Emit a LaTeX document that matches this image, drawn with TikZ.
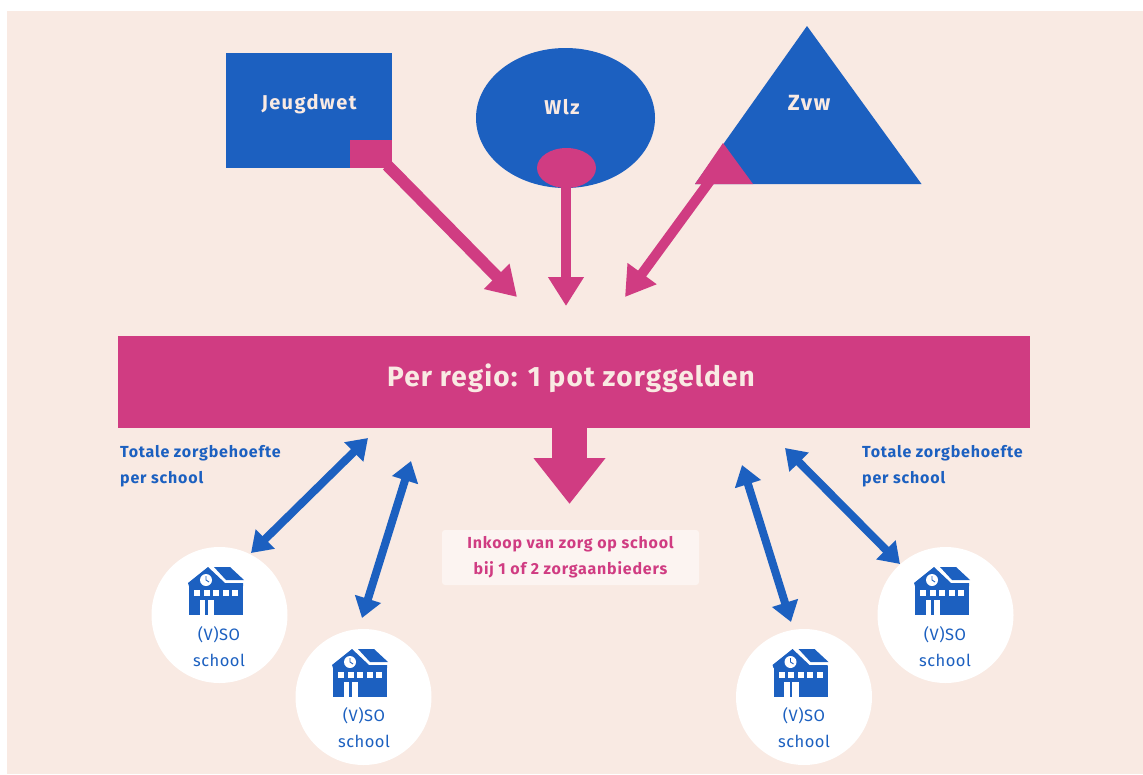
\documentclass[tikz,border=0pt]{standalone}
\usepackage{fontspec}
\setmainfont{Fira Sans}
\newfontfamily\fsa[LetterSpace=4]{Fira Sans}
\newfontfamily\fsb[LetterSpace=7]{Fira Sans}
\newfontfamily\fsc[LetterSpace=5]{Fira Sans}
\newfontfamily\fsd[LetterSpace=3]{Fira Sans}
\usetikzlibrary{arrows.meta,shapes.geometric}
\definecolor{bgc}{HTML}{F9EAE3}
\definecolor{blu}{HTML}{1C60C0}
\definecolor{pnk}{HTML}{D03C82}
\definecolor{boxc}{HTML}{FCF4F1}
\tikzset{
 x=1pt,y=-1pt,
 pinkarrow/.style={draw=pnk,line width=10pt,-{Triangle[length=29pt,width=34pt,fill=pnk]}},
 bluearrow/.style={draw=blu,line width=8pt,{Triangle[length=20pt,width=26pt,fill=blu]}-{Triangle[length=20pt,width=26pt,fill=blu]}},
 schoolc/.style={circle,fill=white,minimum size=136pt,inner sep=0pt},
 head/.style={text=bgc,font=\fontsize{20}{22}\selectfont\fsb\bfseries,inner sep=0pt},
 sidetext/.style={text=blu,font=\fontsize{16}{26}\selectfont\fsc\bfseries,align=left,anchor=north west,inner sep=0pt},
 schooltxt/.style={text=blu,font=\fontsize{16.5}{26}\selectfont\fsd,align=center,inner sep=0pt},
 school/.pic={
  \fill[blu] (-27,-7) rectangle (27,24);
  \fill[blu] (-8,-24) -- (-28,-8) -- (-27,-5) -- (27,-5) -- (27,-8) -- (9,-8) -- cycle;
  \fill[blu] (-2,-24) -- (14,-24) -- (28,-11) -- (10,-11) -- cycle;
  \draw[white,line width=1.2pt] (-5,-24.5) -- (9.5,-9.5) -- (28,-9.5);
  \fill[white] (-10,-11) circle (6);
  \draw[blu,line width=.9pt] (-10,-15) -- (-10,-11) -- (-7,-9);
  \foreach \q in {-22,-12.5,-3,6.5,16} \fill[white] (\q,-1) rectangle +(6,6);
  \fill[white] (-16.3,9) rectangle (-10.7,24);
  \fill[white] (-8.3,9) rectangle (-1.7,24);
 },
}
\begin{document}
\begin{tikzpicture}
\useasboundingbox (0,0) rectangle (1143,774);
\fill[white] (0,0) rectangle (1143,774);
\fill[bgc] (7,11) rectangle (1143,774);
% sources
\node[fill=blu,minimum width=166pt,minimum height=115pt,inner sep=0pt] (jw) at (309,110.5) {};
\node[ellipse,fill=blu,minimum width=179pt,minimum height=140pt,inner sep=0pt] (wlz) at (565.5,118) {};
\fill[blu] (807,26) -- (921.5,184) -- (695,184) -- cycle;
% arrows
\coordinate (ja) at (517,297);
\coordinate (wa) at (566,306);
\coordinate (za) at (625,297);
\coordinate (zp) at (712,178);
\node[fill=pnk,minimum width=42pt,minimum height=28pt,inner sep=0pt] (jp) at (371,154) {};
\node[ellipse,fill=pnk,minimum width=59pt,minimum height=40pt,inner sep=0pt] (wp) at (566.5,168) {};
\coordinate (wc) at (566,168);
\fill[pnk] (723,143) -- (753,184) -- (695,184) -- cycle;
\draw[pinkarrow,line width=12pt] (jp.south east) ++(-5,-3) coordinate (js) -- (ja);
\draw[pinkarrow] (wc) -- (wa);
\draw[pinkarrow] (zp) -- (za);
% labels
\node[head] (tj) at (309,104) {Jeugdwet};
\node[head] (tw) at (562,107) {Wlz};
\node[head,font=\fontsize{22}{24}\selectfont\fsb\bfseries] (tz) at (809,103) {Zvw};
% pot
\node[fill=pnk,minimum width=912pt,minimum height=92pt,inner sep=0pt,text=bgc,font=\fontsize{28}{30}\selectfont\fsa\bfseries] (pot) at (574,382) {\hspace*{-6pt}\raisebox{-4pt}[0pt][0pt]{Per regio: 1 pot zorggelden}};
\coordinate (potd) at (569.5,425);
\coordinate (tipd) at (569.5,504);
\draw[draw=pnk,line width=35pt,-{Triangle[length=46pt,width=69pt,fill=pnk,sep=0pt]}] (potd) -- (tipd);
% side texts
\node[sidetext] (ls) at (120,445.5) {Totale zorgbehoefte\\per school};
\node[sidetext] (rs) at (862,445.5) {Totale zorgbehoefte\\per school};
\node[fill=boxc,rounded corners=3pt,minimum width=257pt,minimum height=55pt,inner sep=0pt,text=pnk,align=center,font=\fontsize{16}{26}\selectfont\fsc\bfseries] (ink) at (570.5,557.5) {Inkoop van zorg op school\\bij 1 of 2 zorgaanbieders};
% schools
\node[schoolc] (s1) at (219.5,615) {};
\node[schoolc] (s2) at (363.5,697) {};
\node[schoolc] (s3) at (804,697) {};
\node[schoolc] (s4) at (945.5,615) {};
\pic at (216,591) {school};
\pic at (360,673) {school};
\pic at (800.5,673) {school};
\pic at (942,591) {school};
\node[schooltxt] (t1) at (219,646.5) {(V)SO\\school};
\node[schooltxt] (t2) at (364,727.5) {(V)SO\\school};
\node[schooltxt] (t3) at (804,727.5) {(V)SO\\school};
\node[schooltxt] (t4) at (945,646.5) {(V)SO\\school};
% blue arrows
\coordinate (b1) at (368,438); \coordinate (b1e) at (251,553);
\coordinate (b2) at (411,461); \coordinate (b2e) at (362,618);
\coordinate (b3) at (742,465); \coordinate (b3e) at (791,622);
\coordinate (b4) at (785,448); \coordinate (b4e) at (900,564);
\draw[bluearrow] (b1) -- (b1e);
\draw[bluearrow] (b2) -- (b2e);
\draw[bluearrow] (b3) -- (b3e);
\draw[bluearrow] (b4) -- (b4e);
\end{tikzpicture}
\end{document}
